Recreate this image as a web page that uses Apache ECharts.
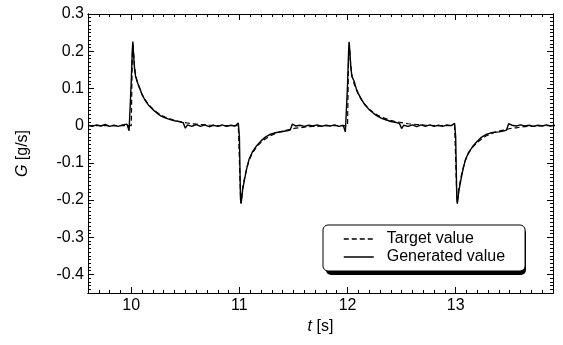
<!DOCTYPE html>
<html>
<head>
<meta charset="utf-8">
<script src="https://cdn.jsdelivr.net/npm/echarts@6/dist/echarts.min.js"></script>
<style>html,body{margin:0;padding:0;background:#fff}#c{width:563px;height:345px}</style>
</head>
<body>
<div id="c"></div>
<script>
var times = [
  9.60,9.64,9.68,9.72,9.76,9.80,9.84,9.88,9.92,9.96,
  9.98,10.00,10.01,10.015,10.02,10.03,10.04,10.06,10.08,10.10,10.13,10.16,10.20,10.24,10.28,10.32,10.36,10.40,10.44,10.48,10.50,10.52,10.56,10.60,10.64,10.68,10.72,10.76,10.80,10.84,10.88,10.92,10.96,
  10.99,11.00,11.01,11.015,11.02,11.03,11.05,11.07,11.09,11.12,11.16,11.20,11.24,11.28,11.32,11.36,11.40,11.44,11.47,11.49,11.52,11.56,11.60,11.64,11.68,11.72,11.76,11.80,11.84,11.88,11.92,11.96,
  11.98,12.00,12.01,12.015,12.02,12.03,12.04,12.06,12.08,12.10,12.13,12.16,12.20,12.24,12.28,12.32,12.36,12.40,12.44,12.48,12.50,12.52,12.56,12.60,12.64,12.68,12.72,12.76,12.80,12.84,12.88,12.92,12.96,
  12.99,13.00,13.01,13.015,13.02,13.03,13.05,13.07,13.09,13.12,13.16,13.20,13.24,13.28,13.32,13.36,13.40,13.44,13.47,13.49,13.52,13.56,13.60,13.64,13.68,13.72,13.76,13.80,13.84,13.88,13.92
];
var targetValues = [
  0,0,0,0,0,0,0,0,0,0,
  0,0,0.19,0.222,0.2,0.16,0.136,0.113,0.097,0.084,0.069,0.057,0.045,0.035,0.028,0.022,0.018,0.014,0.011,0.009,0.008,0.007,0.005,0.004,0.003,0.002,0.001,0.001,0,0,0,0,0,
  0,0,-0.185,-0.208,-0.196,-0.168,-0.137,-0.113,-0.093,-0.074,-0.057,-0.045,-0.036,-0.028,-0.023,-0.018,-0.015,-0.012,-0.01,-0.009,-0.007,-0.006,-0.004,-0.003,-0.002,-0.002,-0.001,0,0,0,0,0,
  0,0,0.19,0.222,0.2,0.16,0.136,0.113,0.097,0.084,0.069,0.057,0.045,0.035,0.028,0.022,0.018,0.014,0.011,0.009,0.008,0.007,0.005,0.004,0.003,0.002,0.001,0.001,0,0,0,0,0,
  0,0,-0.185,-0.208,-0.196,-0.168,-0.137,-0.113,-0.093,-0.074,-0.057,-0.045,-0.036,-0.028,-0.023,-0.018,-0.015,-0.012,-0.01,-0.009,-0.007,-0.006,-0.004,-0.003,-0.002,-0.002,-0.001,0,0,0,0
];
var generatedValues = [
  0.001,-0.002,0.002,-0.001,0.003,-0.002,0.001,-0.002,0.002,0.004,
  -0.014,0.12,0.205,0.226,0.2,0.155,0.132,0.114,0.1,0.083,0.067,0.055,0.043,0.033,0.025,0.02,0.016,0.013,0.011,0.008,-0.007,0.002,-0.002,0.003,-0.002,0.002,-0.003,0.001,-0.002,0.002,-0.002,0.001,-0.001,
  0.007,-0.03,-0.195,-0.21,-0.2,-0.172,-0.141,-0.112,-0.09,-0.071,-0.054,-0.041,-0.031,-0.024,-0.02,-0.018,-0.016,-0.014,-0.012,0.004,-0.001,0.001,-0.002,0.001,-0.001,0.002,-0.002,0.001,-0.001,0.002,-0.002,0.001,
  -0.017,0.11,0.2,0.225,0.205,0.16,0.132,0.12,0.1,0.086,0.07,0.056,0.043,0.033,0.025,0.019,0.015,0.011,0.009,0.006,-0.008,0.001,-0.002,0.002,-0.003,0.002,-0.002,0.002,-0.002,0.001,-0.002,0.002,0,
  0.006,-0.03,-0.19,-0.21,-0.205,-0.175,-0.143,-0.115,-0.092,-0.072,-0.055,-0.042,-0.031,-0.024,-0.02,-0.018,-0.017,-0.015,-0.012,0.005,0.001,-0.001,0.002,-0.001,0.001,-0.002,0.001,-0.001,0.002,-0.001,0.001
];
var xTickLabels = [10, 11, 12, 13];
var yTickLabels = [-0.4, -0.3, -0.2, -0.1, 0, 0.1, 0.2, 0.3];
var seriesNames = ['Target value', 'Generated value'];

var FONT = 'Liberation Sans, Arial, sans-serif';
var X_MIN = 9.6, X_MAX = 13.9, Y_MIN = -0.45, Y_MAX = 0.3;

function pairs(vals) { return times.map(function (t, k) { return [t, vals[k]]; }); }

function axBase(min, max, pos, len) {
  return {
    type: 'value', min: min, max: max, position: pos,
    axisLine: { show: true, onZero: false, lineStyle: { color: '#000', width: 1 } },
    axisTick: { show: true, inside: true, length: len, lineStyle: { color: '#000', width: 1 } },
    axisLabel: { show: false },
    splitLine: { show: false }
  };
}
function majorX(pos, labels) {
  var a = axBase(X_MIN, X_MAX, pos, 6);
  a.axisTick.customValues = xTickLabels;
  if (labels) a.axisLabel = { show: true, customValues: xTickLabels, color: '#000', fontSize: 16, fontFamily: FONT, margin: 5 };
  return a;
}
function minorX(pos) {
  var a = axBase(X_MIN, X_MAX, pos, 3);
  a.interval = 0.1;
  return a;
}
function majorY(pos, labels) {
  var a = axBase(Y_MIN, Y_MAX, pos, 6);
  a.axisTick.customValues = yTickLabels;
  if (labels) a.axisLabel = { show: true, customValues: yTickLabels, color: '#000', fontSize: 16, fontFamily: FONT, margin: 4 };
  return a;
}
function minorY(pos) {
  var a = axBase(Y_MIN, Y_MAX, pos, 3);
  a.interval = 0.01;
  return a;
}

var xMain = majorX('bottom', true);
xMain.name = '{i|t} [s]';
xMain.nameLocation = 'middle';
xMain.nameGap = 25;
xMain.nameTextStyle = { color: '#000', fontSize: 16, fontFamily: FONT,
  rich: { i: { fontStyle: 'italic', fontSize: 16, fontFamily: FONT, color: '#000' } } };

var yMain = majorY('left', true);
yMain.name = '{i|G} [g/s]';
yMain.nameLocation = 'middle';
yMain.nameGap = 57;
yMain.nameTextStyle = { color: '#000', fontSize: 16, fontFamily: FONT,
  rich: { i: { fontStyle: 'italic', fontSize: 16, fontFamily: FONT, color: '#000' } } };

var chart = echarts.init(document.getElementById('c'), null, { renderer: 'canvas' });
chart.setOption({
  animation: false,
  backgroundColor: '#fff',
  grid: { left: 88, right: 10, top: 14, bottom: 52, containLabel: false },
  xAxis: [xMain, minorX('bottom'), majorX('top', false), minorX('top')],
  yAxis: [yMain, minorY('left'), majorY('right', false), minorY('right')],
  legend: {
    data: seriesNames,
    orient: 'vertical',
    left: 323, top: 225,
    padding: [6, 20, 6, 20],
    itemGap: 2,
    itemWidth: 30, itemHeight: 14,
    backgroundColor: '#fff',
    borderColor: '#000', borderWidth: 1, borderRadius: 5,
    itemStyle: { color: 'transparent', borderWidth: 0, opacity: 0 },
    lineStyle: { width: 1.5, color: '#000' },
    textStyle: { color: '#000', fontSize: 16, fontFamily: FONT, padding: [0, 0, 0, 8] },
    z: 10
  },
  graphic: {
    elements: [{
      type: 'rect', z: 5, zlevel: 0, silent: true,
      shape: { x: 326, y: 228, width: 200, height: 47, r: 5 },
      style: { fill: '#000' }
    }]
  },
  series: [
    {
      name: seriesNames[0], type: 'line', xAxisIndex: 0, yAxisIndex: 0,
      data: pairs(targetValues), showSymbol: false, symbol: 'none',
      lineStyle: { color: '#000', width: 1.2, type: [5, 3] }, itemStyle: { color: '#000' }, z: 3
    },
    {
      name: seriesNames[1], type: 'line', xAxisIndex: 0, yAxisIndex: 0,
      data: pairs(generatedValues), showSymbol: false, symbol: 'none',
      lineStyle: { color: '#000', width: 1.4, type: 'solid' }, itemStyle: { color: '#000' }, z: 2
    }
  ]
});
</script>
</body>
</html>
